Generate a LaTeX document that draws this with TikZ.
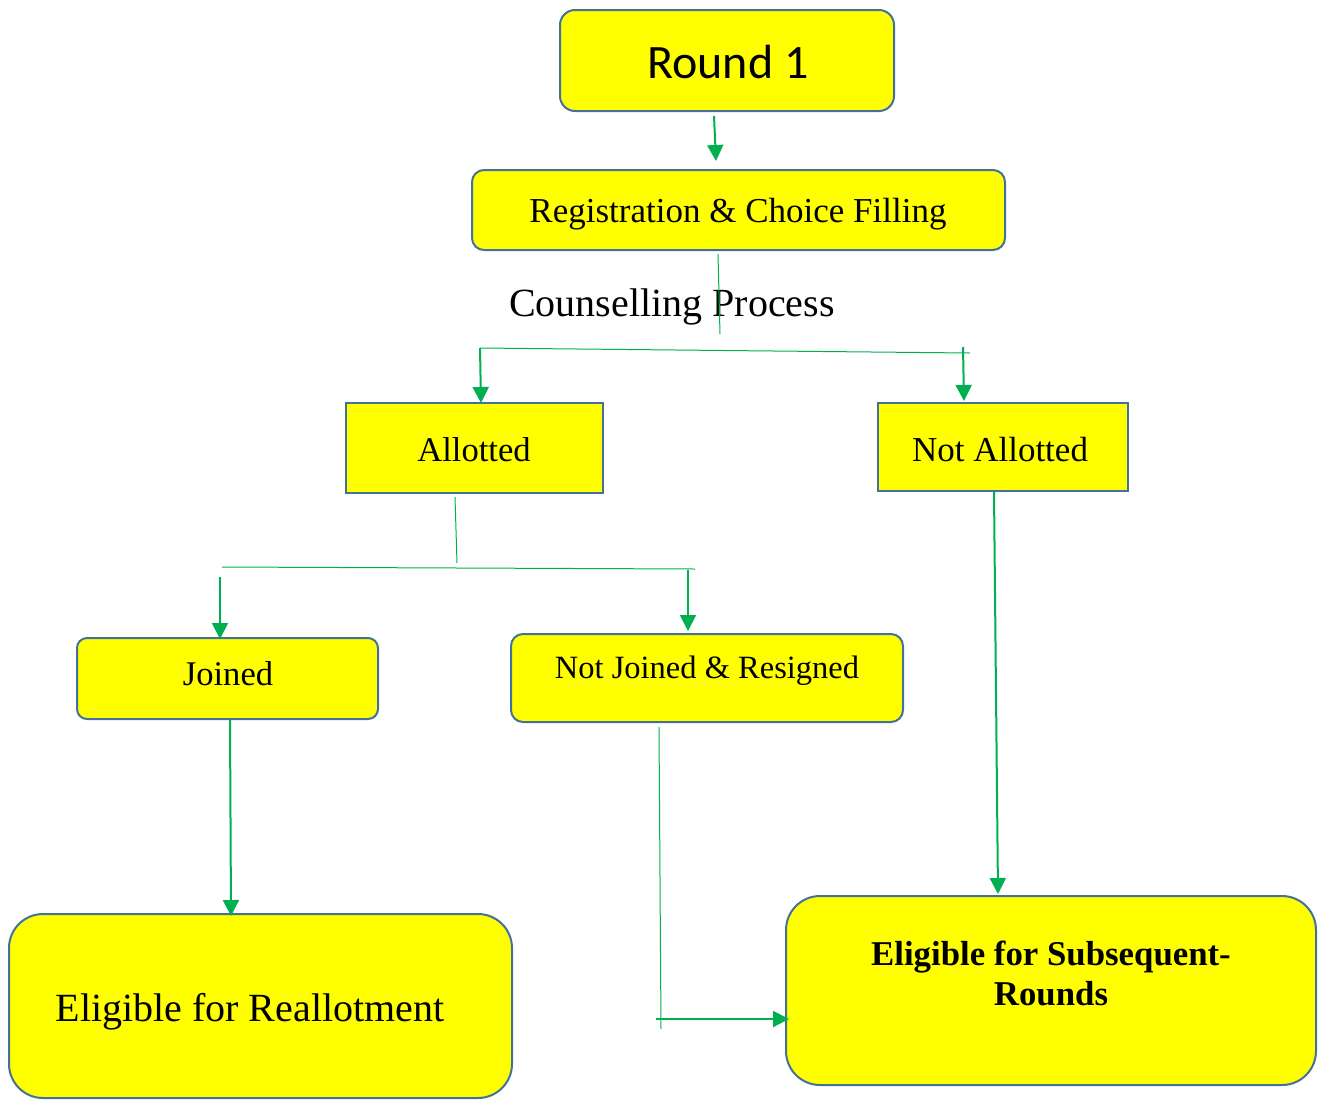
\documentclass[tikz,border=0pt]{standalone}
\usepackage{fontspec}
\setmainfont{Liberation Serif}
\newfontfamily\calfont{Carlito}
\usetikzlibrary{arrows.meta}
\definecolor{boxfill}{HTML}{FFFF00}
\definecolor{boxline}{HTML}{41719C}
\definecolor{flow}{HTML}{00B050}
\begin{document}
\begin{tikzpicture}[x=0.5pt,y=-0.5pt,
  box/.style={draw=boxline, fill=boxfill, line width=1pt, inner sep=0pt, align=center},
  thin/.style={draw=flow, line width=0.5pt},
  arr/.style={draw=flow, line width=1pt, -{Triangle[width=8pt,length=8pt]}},
  lbl/.style={inner sep=0pt, align=center}]
\useasboundingbox (0,0) rectangle (1323,1109);
% boxes
\node[box, rounded corners=7.5pt, minimum width=167pt, minimum height=50.5pt] (r1) at (727,60.5) {};
\node[lbl, font=\calfont\fontsize{24}{28}\selectfont] (r1t) at (728,62) {Round 1};
\node[box, rounded corners=6pt, minimum width=266.5pt, minimum height=40pt] (reg) at (738.5,210) {};
\node[lbl, font=\fontsize{17.5}{21}\selectfont] (regt) at (738,214) {Registration \& Choice Filling};
\node[lbl, font=\fontsize{20}{24}\selectfont] (cp) at (672,307) {Counselling Process};
\node[box, minimum width=128.5pt, minimum height=45pt] (al) at (474.5,448) {};
\node[lbl, font=\fontsize{17.3}{21}\selectfont] (alt) at (474,450) {Allotted};
\node[box, minimum width=125pt, minimum height=44pt] (na) at (1003,447) {};
\node[lbl, font=\fontsize{17.5}{21}\selectfont] (nat) at (1000,450) {Not Allotted};
\node[box, rounded corners=5pt, minimum width=150.5pt, minimum height=40.5pt] (jo) at (227.5,678.5) {};
\node[lbl, font=\fontsize{17.3}{21}\selectfont] (jot) at (228,674) {Joined};
\node[box, rounded corners=6pt, minimum width=196pt, minimum height=44pt] (nj) at (707,678) {};
\node[lbl, font=\fontsize{16.25}{20}\selectfont] (njt) at (707,671) {Not Joined \& Resigned};
\node[box, rounded corners=17pt, minimum width=251.5pt, minimum height=92pt] (er) at (260.5,1006) {};
\node[lbl, font=\fontsize{20}{24}\selectfont] (ert) at (250,1012) {Eligible for Reallotment};
\node[box, rounded corners=17pt, minimum width=265pt, minimum height=94.5pt] (es) at (1051,990.5) {};
\node[lbl, font=\bfseries\fontsize{17.4}{20}\selectfont] (est) at (1051,973) {Eligible for Subsequent-\\Rounds};
% connector coordinates
\coordinate (c1a) at (714,116); \coordinate (c1b) at (716,161);
\coordinate (c2a) at (718,254); \coordinate (c2b) at (720,334);
\coordinate (h1l) at (480,348); \coordinate (h1r) at (970,353);
\coordinate (h1a) at (963,347);
\coordinate (alin) at (481,403); \coordinate (nain) at (964,401);
\coordinate (c3a) at (455,497); \coordinate (c3b) at (457,563);
\coordinate (h2l) at (222,567); \coordinate (h2r) at (695,569);
\coordinate (h2a) at (220,577); \coordinate (h2b) at (688,570);
\coordinate (join) at (220,639); \coordinate (njin) at (688,631);
\coordinate (jout) at (230,720); \coordinate (erin) at (231,916);
\coordinate (v4a) at (659,727); \coordinate (v4b) at (661,1029);
\coordinate (h4a) at (656,1019); \coordinate (esin) at (789,1019);
\coordinate (naout) at (994,492); \coordinate (esin2) at (998,894);
% connectors
\draw[arr] (c1a) -- (c1b);
\draw[thin] (c2a) -- (c2b);
\draw[thin] (h1l) -- (h1r);
\draw[arr] (h1l) -- (alin);
\draw[arr] (h1a) -- (nain);
\draw[thin] (c3a) -- (c3b);
\draw[thin] (h2l) -- (h2r);
\draw[arr] (h2a) -- (join);
\draw[arr] (h2b) -- (njin);
\draw[arr] (jout) -- (erin);
\draw[thin] (v4a) -- (v4b);
\draw[arr] (h4a) -- (esin);
\draw[arr] (naout) -- (esin2);
\end{tikzpicture}
\end{document}
